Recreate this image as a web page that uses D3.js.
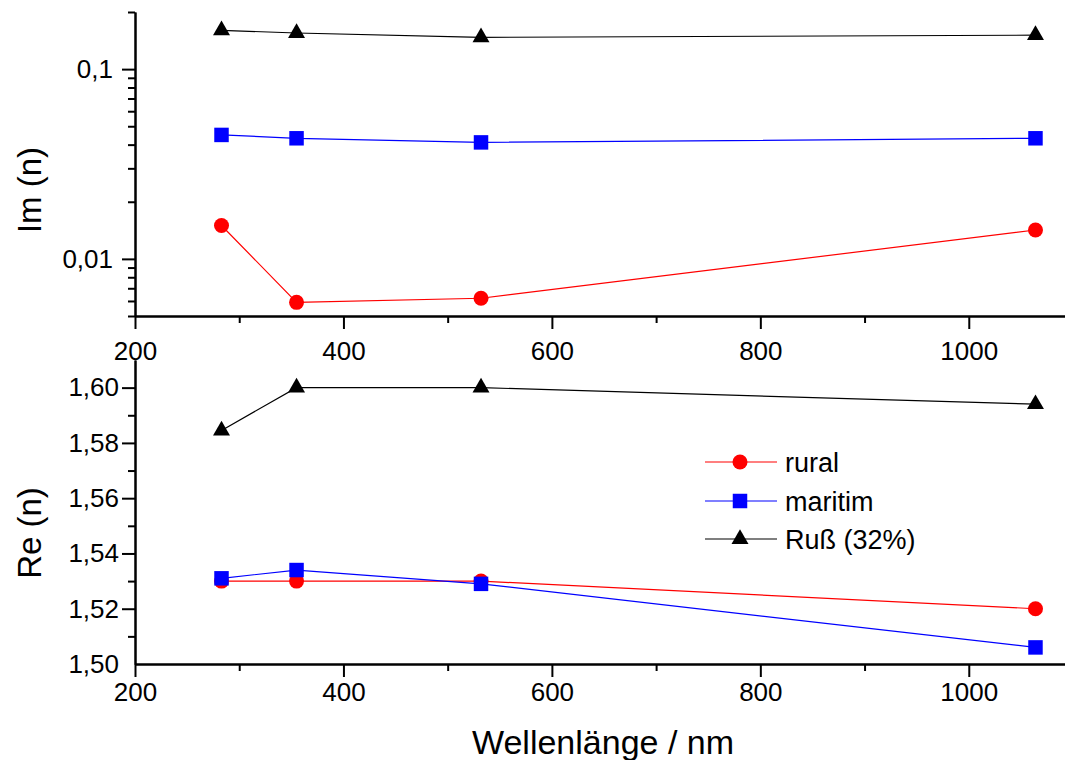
<!DOCTYPE html>
<head>
<meta charset="utf-8">
<title>Brechungsindex</title>
<script src="https://d3js.org/d3.v7.min.js"></script>
<style>
    body { margin: 0; background: #fff; }
    svg { display: block; overflow: hidden; }
    .axis path, .axis line {
    stroke: #000;
    stroke-width: 2;
    fill: none;
    }
    .axis text {
    fill: #000;
    font-family: Arial, "Liberation Sans", sans-serif;
    font-size: 26px;
    }
    .label {
    font-family: Arial, "Liberation Sans", sans-serif;
    fill: #000;
    }
</style>
</head>
<body>
<div id="container"></div>
<script>
// wavelengths in nm
var wavelength = [283, 355, 532, 1064];

// imaginary part (log axis)
var imRural   = [0.0150, 0.0059, 0.0062, 0.0142];
var imMaritim = [0.0450, 0.0432, 0.0411, 0.0432];
var imRuss    = [0.160, 0.155, 0.147, 0.151];

// real part
var reRural   = [1.530, 1.530, 1.530, 1.520];
var reMaritim = [1.531, 1.534, 1.529, 1.506];
var reRuss    = [1.5845, 1.600, 1.600, 1.594];

var seriesNames = ["rural", "maritim", "Ruß (32%)"];

// ticks
var xMajor = [200, 400, 600, 800, 1000];
var xMinor = [300, 500, 700, 900, 1100];
var imMajor = [0.01, 0.1];
var imMinor = [0.005, 0.006, 0.007, 0.008, 0.009, 0.02, 0.03, 0.04, 0.05, 0.06, 0.07, 0.08, 0.09, 0.2];
var reMajor = [1.52, 1.54, 1.56, 1.58, 1.60];
var reMinor = [1.51, 1.53, 1.55, 1.57, 1.59];

var width = 1065, height = 760;

var svg = d3.select("#container").append("svg")
    .attr("width", width)
    .attr("height", height);

//----------------------------SCALES----------------------------//
var xScale = d3.scaleLinear().domain([200, 1100]).range([135, 1073]);
var yIm = d3.scaleLog().domain([0.005, 0.2]).range([316, 12]);
var yRe = d3.scaleLinear().domain([1.50, 1.61]).range([664, 360]);

var comma = function(digits) {
    return function(d) { return d.toFixed(digits).replace(".", ","); };
};

//-----------------------------AXES-----------------------------//
function xAxes(y, pad) {
    svg.append("g").attr("class", "axis")
        .attr("transform", "translate(0," + y + ")")
        .call(d3.axisBottom(xScale).tickValues(xMinor).tickSize(7).tickSizeOuter(0).tickFormat(""));
    svg.append("g").attr("class", "axis")
        .attr("transform", "translate(0," + y + ")")
        .call(d3.axisBottom(xScale).tickValues(xMajor).tickSize(13).tickSizeOuter(0).tickPadding(pad).tickFormat(d3.format("d")));
}
xAxes(316, 12.5);
xAxes(664, 6);

// top: Im
svg.append("g").attr("class", "axis")
    .attr("transform", "translate(135,0)")
    .call(d3.axisLeft(yIm).tickValues(imMinor).tickSize(7).tickSizeOuter(0).tickFormat(""));
svg.append("g").attr("class", "axis")
    .attr("transform", "translate(135,0)")
    .call(d3.axisLeft(yIm).tickValues(imMajor).tickSize(13).tickSizeOuter(0).tickPadding(9)
        .tickFormat(function(d) { return d >= 0.1 ? "0,1" : "0,01"; }));

// bottom: Re
svg.append("g").attr("class", "axis")
    .attr("transform", "translate(135,0)")
    .call(d3.axisLeft(yRe).tickValues(reMinor).tickSize(7).tickSizeOuter(0).tickFormat(""));
var reAx = svg.append("g").attr("class", "axis")
    .attr("transform", "translate(135,0)")
    .call(d3.axisLeft(yRe).tickValues([1.50].concat(reMajor)).tickSize(13).tickSizeOuter(0).tickPadding(3).tickFormat(comma(2)));
reAx.selectAll(".tick").filter(function(d) { return d === 1.50; }).select("line").remove();
reAx.selectAll(".tick text").attr("x", -16);

// axis titles
svg.append("text").attr("class", "label")
    .attr("transform", "translate(41,190) rotate(-90)")
    .style("text-anchor", "middle")
    .style("font-size", "33px")
    .text("Im (n)");
svg.append("text").attr("class", "label")
    .attr("transform", "translate(41,533) rotate(-90)")
    .style("text-anchor", "middle")
    .style("font-size", "33px")
    .text("Re (n)");
svg.append("text").attr("class", "label")
    .attr("x", 603).attr("y", 754)
    .style("text-anchor", "middle")
    .style("font-size", "34px")
    .text("Wellenlänge / nm");

//----------------------------LINES-----------------------------//
var colors = ["#ff0000", "#0000ff", "#000000"];
var shapes = [
    d3.symbol().type(d3.symbolCircle).size(177),
    d3.symbol().type(d3.symbolSquare).size(210),
    d3.symbol().type(d3.symbolTriangle).size(125)
];

function drawSeries(values, yScale, i) {
    var pts = wavelength.map(function(w, k) { return {x: w, y: values[k]}; });
    var line = d3.line()
        .x(function(d) { return xScale(d.x); })
        .y(function(d) { return yScale(d.y); });
    svg.append("path")
        .datum(pts)
        .attr("d", line)
        .attr("fill", "none")
        .attr("stroke", colors[i])
        .attr("stroke-width", 1.2);
    svg.selectAll(".m" + i + yScale.range()[0])
        .data(pts)
        .enter().append("path")
        .attr("transform", function(d) { return "translate(" + xScale(d.x) + "," + yScale(d.y) + ")"; })
        .attr("d", shapes[i])
        .attr("fill", colors[i]);
}

drawSeries(imRural, yIm, 0);
drawSeries(imMaritim, yIm, 1);
drawSeries(imRuss, yIm, 2);
drawSeries(reRural, yRe, 0);
drawSeries(reMaritim, yRe, 1);
drawSeries(reRuss, yRe, 2);

//--Legend--//
var legendY = [462, 501, 539];
seriesNames.forEach(function(name, i) {
    svg.append("line")
        .attr("x1", 705).attr("x2", 777)
        .attr("y1", legendY[i]).attr("y2", legendY[i])
        .attr("stroke", colors[i]).attr("stroke-width", 1.2);
    svg.append("path")
        .attr("transform", "translate(740," + legendY[i] + ")")
        .attr("d", shapes[i])
        .attr("fill", colors[i]);
    svg.append("text").attr("class", "label")
        .attr("x", 785).attr("y", legendY[i])
        .attr("dy", "0.36em")
        .style("font-size", "27px")
        .text(name);
});
</script>
</body>
